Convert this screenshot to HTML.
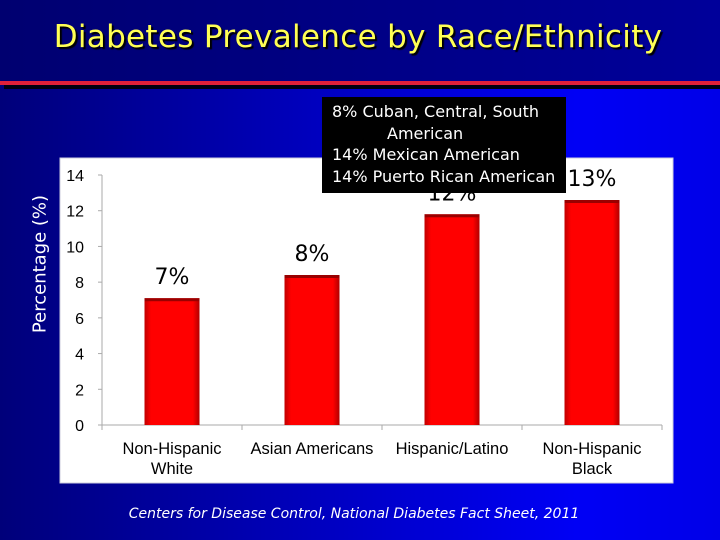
<!DOCTYPE html>
<html><head><meta charset="utf-8"><style>
body{margin:0;width:720px;height:540px;overflow:hidden;font-family:"DejaVu Sans","Liberation Sans",sans-serif;}
#slide{position:relative;width:720px;height:540px;background:linear-gradient(to right,#00007a 0%,#0000c8 50%,#0000f5 80%,#0000e8 100%);}
#top{position:absolute;left:0;top:0;width:720px;height:84px;background:linear-gradient(to right,#000070,#00009a);}
</style></head><body>
<div id="slide">
<div id="top"></div>
<div style="position:absolute;left:0;width:716px;top:19px;text-align:center;color:#ffff55;font-size:31px;letter-spacing:0.3px;text-shadow:2px 2px 1px #000;">Diabetes Prevalence by Race/Ethnicity</div>
<div style="position:absolute;left:0;top:81px;width:720px;height:4px;background:#e0203a;"></div>
<div style="position:absolute;left:4px;top:85px;width:716px;height:4px;background:#000010;"></div>
<svg id="chart" width="720" height="540" style="position:absolute;left:0;top:0">
<defs><linearGradient id="bg" x1="0" x2="1"><stop offset="0" stop-color="#c00000"/><stop offset="0.12" stop-color="#ff0000"/><stop offset="0.88" stop-color="#ff0000"/><stop offset="1" stop-color="#b00000"/></linearGradient></defs>
<rect x="60" y="158" width="613" height="325" fill="#fff" stroke="#ccd"/>
<g id="g"></g>
</svg>
<div style="position:absolute;left:40px;top:264px;transform:translate(-50%,-50%) rotate(-90deg);color:#fff;font-size:18px;white-space:nowrap;">Percentage (%)</div>
<div style="position:absolute;left:322px;top:97px;width:244px;height:96px;background:#000;color:#fff;font-size:16px;line-height:21.5px;padding:4px 0 0 10px;box-sizing:border-box;">8% Cuban, Central, South<br><span style="padding-left:55px">American</span><br>14% Mexican American<br>14% Puerto Rican American</div>
<div style="position:absolute;left:0;width:708px;top:506px;text-align:center;color:#fff;font-style:italic;font-size:14px;">Centers for Disease Control, National Diabetes Fact Sheet, 2011</div>
</div>
<script>
const categories=[["Non-Hispanic","White"],["Asian Americans"],["Hispanic/Latino"],["Non-Hispanic","Black"]];
const values=[7.1,8.4,11.8,12.6];
const valueLabels=["7%","8%","12%","13%"];
const yTicks=[0,2,4,6,8,10,12,14];
const NS="http://www.w3.org/2000/svg",g=document.getElementById("g");
const x0=102,x1=662,y0=425,y1=175,yMax=14;
const Y=v=>y0-(v/yMax)*(y0-y1);
const bw=(x1-x0)/categories.length;
const X=i=>x0+bw*(i+0.5);
function mk(t,a){const e=document.createElementNS(NS,t);for(const k in a)e.setAttribute(k,a[k]);g.appendChild(e);return e;}
let e=mk("line",{x1:x0,x2:x0,y1:y1,y2:y0,stroke:"#aaa"});

e=mk("line",{x1:x0,x2:x1,y1:y0,y2:y0,stroke:"#aaa"});

yTicks.forEach(t=>{const y=Y(t);
 mk("line",{x1:x0-4,x2:x0,y1:y,y2:y,stroke:"#aaa"});
 const tx=mk("text",{x:84,y:y+6,"text-anchor":"end","font-size":"16","font-family":"Liberation Sans, sans-serif",fill:"#000"});tx.textContent=t;
 });
for(let i=0;i<=categories.length;i++){const x=x0+bw*i;mk("line",{x1:x,x2:x,y1:y0,y2:y0+5,stroke:"#aaa"});}
categories.forEach((c,i)=>{
 const b=mk("rect",{x:X(i)-27.5,y:Y(values[i]),width:55,height:y0-Y(values[i]),fill:"url(#bg)"});
 
 mk("rect",{x:X(i)-27.5,y:Y(values[i]),width:55,height:3,fill:"#900"});
 const l=mk("text",{x:X(i),y:Y(values[i])-14,"text-anchor":"middle","font-size":"22","font-family":"DejaVu Sans, sans-serif",fill:"#000"});l.textContent=valueLabels[i];
 
 c.forEach((s,j)=>{const t=mk("text",{x:X(i),y:454+j*20,"text-anchor":"middle","font-size":"16.5","font-family":"Liberation Sans, sans-serif",fill:"#000"});t.textContent=s;
 });
});
</script>
</body></html>
